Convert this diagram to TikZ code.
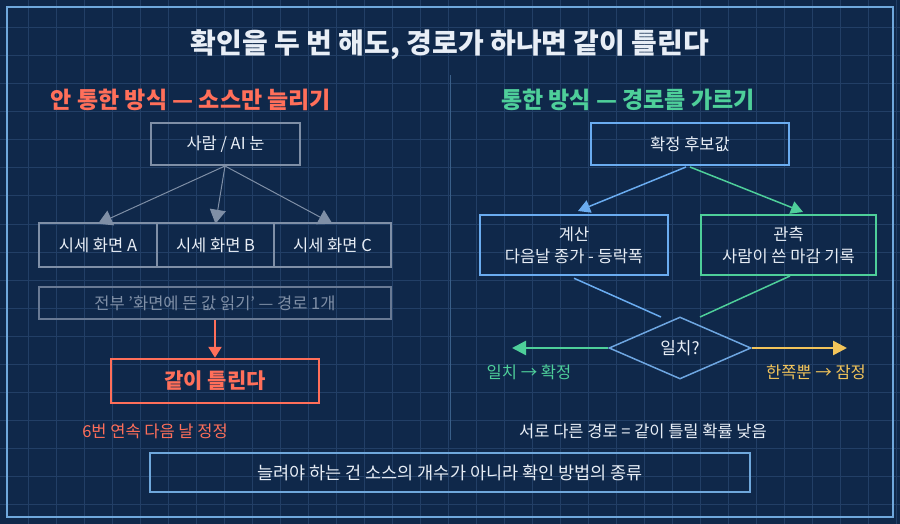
\documentclass[tikz,border=0pt]{standalone}
\usepackage{fontspec}
\setmainfont{Noto Sans CJK KR}
\usetikzlibrary{arrows.meta,shapes.geometric}
\definecolor{bg}{HTML}{0F284A}
\definecolor{gridc}{HTML}{223F66}
\definecolor{frame}{HTML}{6FA8DC}
\definecolor{redc}{HTML}{FF6F5A}
\definecolor{greenc}{HTML}{4ECF9A}
\definecolor{bluec}{HTML}{6AACF0}
\definecolor{yel}{HTML}{F2C45A}
\definecolor{greyc}{HTML}{7F8FA6}
\definecolor{txt}{HTML}{E8EEF6}
\begin{document}
\begin{tikzpicture}[x=1pt,y=-1pt,
  box/.style={draw,line width=2.5pt,align=center,text=txt,font=\fontsize{16.5}{22}\selectfont,inner sep=0pt},
  gbox/.style={box,draw=greyc},
  lbl/.style={font=\fontsize{16.5}{20}\selectfont},
  gar/.style={draw=greyc,line width=1pt,-{Triangle[width=16pt,length=14pt]}}]
\fill[bg] (0,0) rectangle (900,524);
\useasboundingbox (0,0) rectangle (900,524);
\foreach \i in {1,...,32} \draw[gridc,line width=1pt] (\i*28,0) -- (\i*28,524);
\foreach \i in {1,...,18} \draw[gridc,line width=1pt] (0,\i*28) -- (900,\i*28);
\draw[frame,line width=2pt] (7,7) rectangle (893,517);
\draw[gridc!70!frame,line width=0.8pt] (450,75) -- (450,440);
\node (title) at (450,45) {\fontsize{28}{32}\selectfont\bfseries\color{txt}확인을 두 번 해도, 경로가 하나면 같이 틀린다};
\node[text=redc] (lh) at (191,100) {\fontsize{23}{26}\selectfont\bfseries 안 통한 방식 — 소스만 늘리기};
\node[text=greenc] (rh) at (628,100) {\fontsize{23}{26}\selectfont\bfseries 통한 방식 — 경로를 가르기};
% left
\node[gbox,minimum width=149pt,minimum height=42pt] (eye) at (225.5,144) {사람 / AI 눈};
\node[gbox,minimum width=118pt,minimum height=44pt] (a) at (98,245) {시세 화면 A};
\node[gbox,minimum width=117pt,minimum height=44pt] (b) at (215.5,245) {시세 화면 B};
\node[gbox,minimum width=117pt,minimum height=44pt] (c) at (332.5,245) {시세 화면 C};
\coordinate (eb) at (225,166);
\draw[gar] (eb) -- ([yshift=-2pt]a.north);
\draw[gar] (eb) -- ([yshift=-2pt]b.north);
\draw[gar] (eb) -- ([yshift=-2pt]c.north);
\node[draw=greyc!80!bg,line width=1.5pt,minimum width=352pt,minimum height=32pt,inner sep=0pt,text=greyc,font=\fontsize{16.5}{20}\selectfont] (all) at (215,303) {전부 '화면에 뜬 값 읽기' — 경로 1개};
\node[box,draw=redc,text=redc,minimum width=208pt,minimum height=44pt,font=\fontsize{21}{24}\selectfont\bfseries] (wrong) at (215,381) {같이 틀린다};
\draw[redc,line width=2.5pt,-{Triangle[width=13pt,length=11pt]}] (all.south) -- (wrong.north);
\node[lbl,text=redc] (six) at (155,431) {6번 연속 다음 날 정정};
% right
\node[box,draw=bluec,minimum width=198pt,minimum height=42pt] (cand) at (690,144) {확정 후보값};
\node[box,draw=bluec,minimum width=188pt,minimum height=60pt] (calc) at (574,245) {계산\\다음날 종가 - 등락폭};
\node[box,draw=greenc,minimum width=175pt,minimum height=60pt] (obs) at (788.5,245) {관측\\사람이 쓴 마감 기록};
\draw[bluec,line width=1.5pt,-{Triangle[width=13pt,length=12pt]}] (686,167) -- (578,211);
\draw[greenc,line width=1.5pt,-{Triangle[width=13pt,length=12pt]}] (690,167) -- (803,212);
\node[diamond,draw=bluec!80!greyc,line width=1.5pt,minimum width=142pt,minimum height=62pt,aspect=2.3,inner sep=0pt,text=txt,font=\fontsize{17}{20}\selectfont] (m) at (680,348) {일치?};
\draw[bluec,line width=1.5pt] (calc.south) ++(0,2) -- (661,317);
\draw[greenc,line width=1.5pt] (790,276) -- (700,317);
\coordinate (ml) at (512,348);
\coordinate (mr) at (847,348);
\draw[greenc,line width=2.5pt,-{Triangle[width=14pt,length=14pt]}] (m.west) -- (ml);
\draw[yel,line width=2.5pt,-{Triangle[width=14pt,length=14pt]}] (m.east) -- (mr);
\node[lbl,text=greenc] (ok) at (529,372) {일치 → 확정};
\node[lbl,text=yel] (half) at (816,372) {한쪽뿐 → 잠정};
\node[lbl,text=txt] (diff) at (643,431) {서로 다른 경로 = 같이 틀릴 확률 낮음};
\node[draw=frame,line width=1.5pt,minimum width=600pt,minimum height=39pt,inner sep=0pt,text=txt,font=\fontsize{17.5}{20}\selectfont] (bot) at (450,472.5) {늘려야 하는 건 소스의 개수가 아니라 확인 방법의 종류};
\end{tikzpicture}
\end{document}
